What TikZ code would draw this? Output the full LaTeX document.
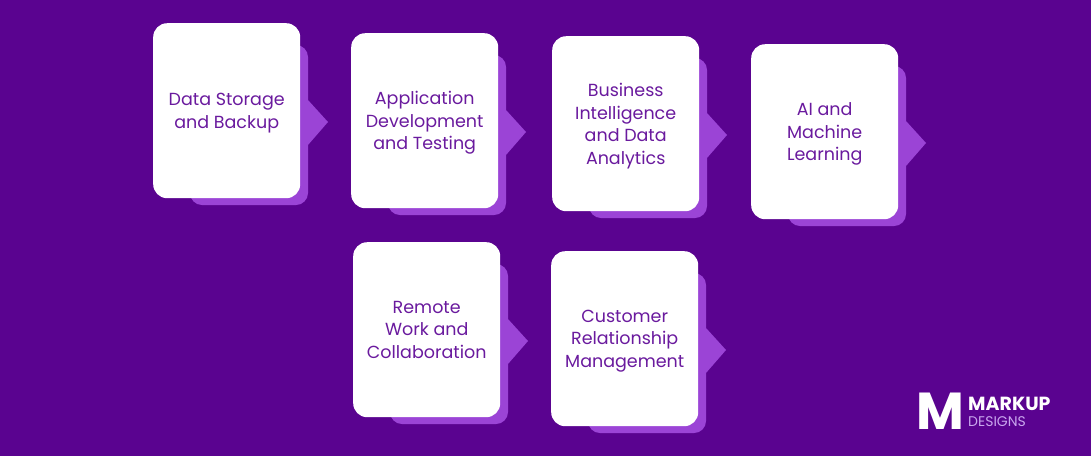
\documentclass[tikz,border=0pt]{standalone}
\usepackage{fontspec}
\setmainfont{Poppins}
\usetikzlibrary{calc,positioning}
\definecolor{bgpurple}{HTML}{5A0390}
\definecolor{shpurple}{HTML}{9B44D6}
\definecolor{txpurple}{HTML}{6A1A9E}
\definecolor{lgpurple}{HTML}{C9A6EE}
\tikzset{card/.style={
  fill=white,
  rounded corners=14pt,
  minimum width=147pt,
  minimum height=175pt,
  inner sep=0pt,
  align=center,
  text=txpurple,
  font=\fontsize{17.5}{22.5}\selectfont}}
\tikzset{cshadow/.style={
  fill=shpurple,
  rounded corners=12pt}}
% card with shadow and arrow tip: name, x, y (top left), text
\newcommand\flowcard[4]{%
  \fill[cshadow] (#2+37,-#3-22) -- (#2+155,-#3-22) [sharp corners] -- (#2+155,-#3-77)
    -- (#2+175,-#3-99) -- (#2+155,-#3-122)
    [rounded corners=12pt] -- (#2+155,-#3-182) -- (#2+37,-#3-182) -- cycle;
  \node[card,anchor=north west,text depth=-8pt] (#1) at (#2,-#3) {#4};
}

\begin{document}
\begin{tikzpicture}[x=1pt,y=1pt]
  \fill[bgpurple] (0,0) rectangle (1091,-456);
  \useasboundingbox (0,0) rectangle (1091,-456);

  %% top row
  \flowcard{storage}{153}{23}{Data Storage\\and Backup}
  \flowcard{appdev}{351}{33}{Application\\Development\\and Testing}
  \flowcard{bi}{552}{36}{Business\\Intelligence\\and Data\\Analytics}
  \flowcard{ai}{751}{44}{AI and\\Machine\\Learning}
  %% bottom row
  \flowcard{remote}{353}{242}{Remote\\Work and\\Collaboration}
  \flowcard{crm}{551}{251}{Customer\\Relationship\\Management}

  %% logo
  \node[white,font=\fontsize{52}{52}\selectfont\bfseries,inner sep=0pt] (logoM) at (940,-411) {M};
  \node[white,font=\fontsize{19}{19}\selectfont\bfseries,inner sep=0pt,anchor=south west]
    (logoA) at (968,-411) {MARKUP};
  \node[lgpurple,font=\fontsize{14}{14}\selectfont,inner sep=0pt,anchor=north west]
    (logoB) at (logoA.south west) [yshift=-5pt] {DESIGNS};
\end{tikzpicture}
\end{document}
